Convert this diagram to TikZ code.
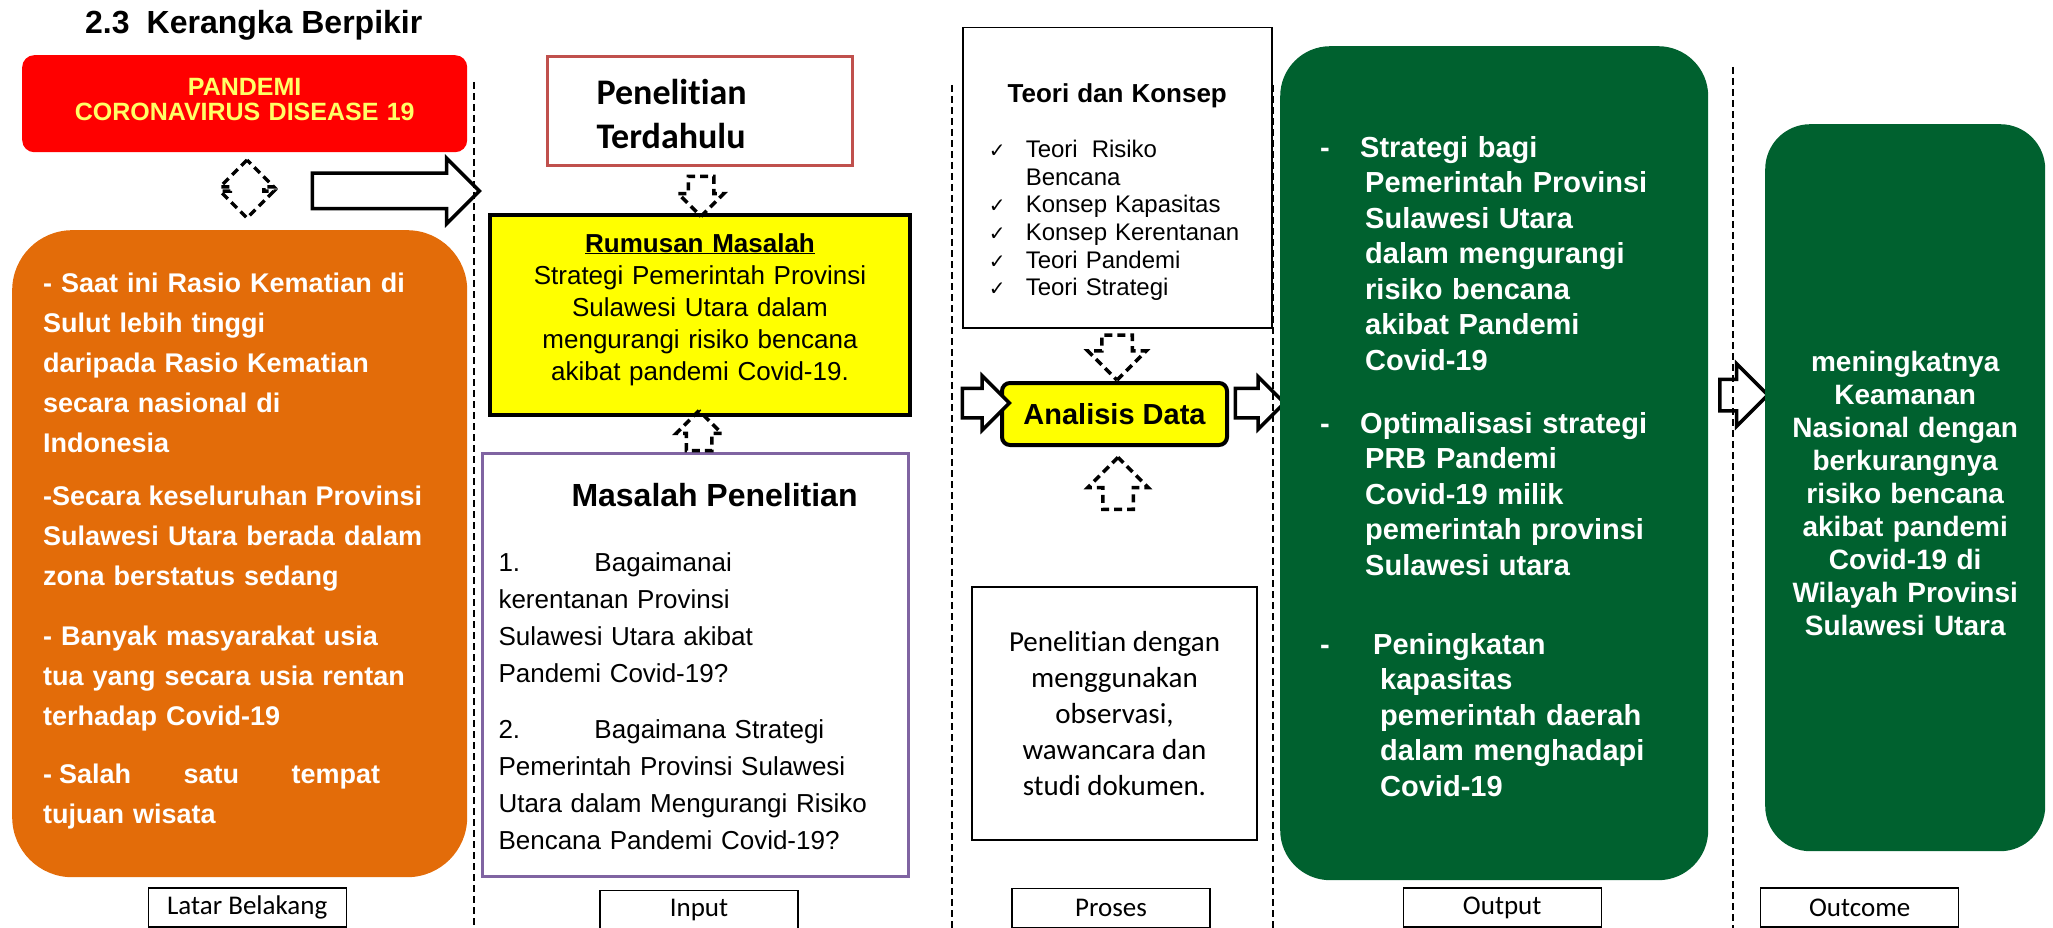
\documentclass[tikz,border=0pt]{standalone}
\usepackage{fontspec}
\setmainfont{Liberation Sans}
\newfontfamily\calibri[Ligatures=NoCommon]{Carlito}
\newfontfamily\cekfont{DejaVu Sans}
\usetikzlibrary{positioning,shapes.arrows}
\definecolor{Merah}{HTML}{FF0000}
\definecolor{Jingga}{HTML}{E36C09}
\definecolor{Kuning}{HTML}{FFFF00}
\definecolor{Hijau}{HTML}{00612F}
\definecolor{Bata}{HTML}{C0504D}
\definecolor{Ungu}{HTML}{8064A2}
\definecolor{KuningMuda}{HTML}{FFFF66}
\newcommand{\ukuran}[2]{\fontsize{#1pt}{#2pt}\selectfont}
\newcommand{\cek}{\makebox[37pt][l]{\cekfont\ukuran{20}{27.6}✓}}

\begin{document}
\begin{tikzpicture}[x=1pt,y=-1pt,
 panel/.style={anchor=north west,inner ysep=0pt},
 blok/.style={draw,line width=3.5pt,fill=white,inner sep=0pt,text depth=0pt},
 panah/.style={blok,single arrow},
 putus/.style={dash pattern=on 8pt off 5pt},
 sekat/.style={line width=1.5pt,dash pattern=on 7pt off 4pt},
 tanda/.style={draw,line width=1.2pt,minimum width=198pt,minimum height=39pt,
   inner sep=0pt,font=\calibri\ukuran{27}{30}}]
\useasboundingbox (0,0) rectangle (2053,928);
% judul
\node[anchor=base west,inner sep=0pt,font=\ukuran{32}{36}\bfseries] (judul) at (85,34)
  {2.3\hspace{17pt}Kerangka Berpikir};
% kolom latar belakang
\node[panel,fill=Merah,rounded corners=12pt,inner xsep=0pt,text width=445pt,
  text height=40pt,text depth=57pt,align=center,text=KuningMuda,
  font=\ukuran{25}{25}\bfseries] (pandemi) at (22,55) {PANDEMI\\CORONAVIRUS DISEASE 19};
\node[panel,fill=Jingga,rounded corners=60pt,inner xsep=31pt,text width=393pt,
  text height=62pt,text depth=585pt,align=left,text=white,
  font=\ukuran{27}{40}\bfseries] (latar) at (12,230) {- Saat ini Rasio Kematian di\\
  Sulut lebih tinggi\\
  daripada Rasio Kematian\\
  secara nasional di\\
  Indonesia\\[13pt]
  \makebox[379pt][l]{-Secara\hfill keseluruhan\hfill Provinsi}\\
  \makebox[379pt][l]{Sulawesi\hfill Utara\hfill berada\hfill dalam}\\
  zona berstatus sedang\\[20pt]
  - Banyak masyarakat usia\\
  tua yang secara usia rentan\\
  terhadap Covid-19\\[18pt]
  \makebox[337pt][l]{-\kern7pt Salah\hfill satu\hfill tempat}\\
  tujuan wisata};
\node[blok,putus,fill=none,double arrow,double arrow head extend=10pt,rotate=90,
  minimum height=58pt,text height=30pt] (duaarah) at (247,189) {};
\node[panah,single arrow head extend=15pt,minimum height=167pt,text height=32pt] (keInput) at (387,191) {};
% kolom input
\node[panel,draw=Bata,line width=3pt,inner xsep=49pt,text width=207pt,text height=48pt,
  text depth=61pt,align=left,font=\calibri\ukuran{36}{44}\bfseries] (terdahulu) at (546,55)
  {Penelitian\\Terdahulu};
\node[panel,draw,fill=Kuning,line width=4pt,inner xsep=0pt,text width=420pt,text height=37pt,
  text depth=163pt,align=center,font=\ukuran{26}{32}] (rumusan) at (488,213)
  {{\bfseries\underline{Rumusan Masalah}}\\
  Strategi Pemerintah Provinsi\\
  Sulawesi Utara dalam\\
  mengurangi risiko bencana\\
  akibat pandemi Covid-19.};
\node[panel,draw=Ungu,line width=3pt,inner xsep=16pt,text width=394pt,text height=53pt,
  text depth=370pt,align=left,font=\ukuran{26}{37}] (masalah) at (481,452)
  {\hspace*{73pt}{\ukuran{32}{37}\bfseries Masalah Penelitian}\\[28pt]
  \makebox[96pt][l]{1.}Bagaimanai\\
  kerentanan Provinsi\\
  Sulawesi Utara akibat\\
  Pandemi Covid-19?\\[19pt]
  \makebox[96pt][l]{2.}Bagaimana Strategi\\
  Pemerintah Provinsi Sulawesi\\
  Utara dalam Mengurangi Risiko\\
  Bencana Pandemi Covid-19?};
\node[panah,putus,fill=none,rotate=270,single arrow head extend=10pt,minimum height=40pt,text height=22pt]
  (turun1) at (701,190) {};
\node[panah,putus,fill=none,rotate=90,single arrow head extend=10pt,minimum height=40pt,text height=22pt]
  (naik1) at (699,437) {};
% kolom proses
\node[panel,draw,line width=1.5pt,inner xsep=26pt,text width=257pt,text height=75pt,
  text depth=225pt,align=left,font=\ukuran{24}{27.6}] (teori) at (962,27)
  {\makebox[257pt]{\ukuran{26}{27.6}\bfseries Teori dan Konsep}\\[27.4pt]
  \cek Teori\hspace{14pt}Risiko\\
  \hspace*{37pt}Bencana\\
  \cek Konsep Kapasitas\\
  \cek Konsep Kerentanan\\
  \cek Teori Pandemi\\
  \cek Teori Strategi};
\node[draw,fill=Kuning,line width=4pt,rounded corners=8pt,minimum width=225pt,
  minimum height=62pt,font=\ukuran{29}{32}\bfseries] (analisis) at (1114.5,414) {Analisis Data};
\node[draw,line width=1.5pt,minimum width=285pt,minimum height=253pt,align=center,
  font=\calibri\ukuran{29}{36}] (metode) at (1114.5,713.5)
  {Penelitian dengan\\menggunakan\\observasi,\\wawancara dan\\studi dokumen.};
\node[panah,putus,fill=none,rotate=270,single arrow head extend=14pt,minimum height=45pt,text height=27pt]
  (turun2) at (1117,350) {};
\node[panah,putus,fill=none,rotate=90,single arrow head extend=15pt,minimum height=52pt,text height=27pt]
  (naik2) at (1118,491) {};
\node[panah,single arrow head extend=12.5pt,minimum height=47pt,text height=26pt] (masukAnalisis) at (978.5,403) {};
\node[panah,single arrow head extend=11.5pt,minimum height=49pt,text height=26pt] (keluarAnalisis) at (1252.5,403) {};
% kolom output dan outcome
\node[panel,fill=Hijau,rounded corners=50pt,inner xsep=40pt,text width=348pt,text height=111pt,
  text depth=723pt,align=left,text=white,font=\ukuran{29}{35.5}\bfseries] (output) at (1280,46)
  {\makebox[40pt][l]{-}Strategi bagi\\
  \hspace*{45pt}Pemerintah Provinsi\\
  \hspace*{45pt}Sulawesi Utara\\
  \hspace*{45pt}dalam mengurangi\\
  \hspace*{45pt}risiko bencana\\
  \hspace*{45pt}akibat Pandemi\\
  \hspace*{45pt}Covid-19\\[27.5pt]
  \makebox[40pt][l]{-}Optimalisasi strategi\\
  \hspace*{45pt}PRB Pandemi\\
  \hspace*{45pt}Covid-19 milik\\
  \hspace*{45pt}pemerintah provinsi\\
  \hspace*{45pt}Sulawesi utara\\[43.5pt]
  \makebox[53pt][l]{-}Peningkatan\\
  \hspace*{60pt}kapasitas\\
  \hspace*{60pt}pemerintah daerah\\
  \hspace*{60pt}dalam menghadapi\\
  \hspace*{60pt}Covid-19};
\node[panah,single arrow head extend=15.5pt,minimum height=48pt,text height=28pt] (keOutcome) at (1736,395) {};
\node[panel,fill=Hijau,rounded corners=45pt,inner xsep=0pt,text width=280pt,text height=247pt,
  text depth=480pt,align=center,text=white,font=\ukuran{28}{33}\bfseries] (outcome) at (1765,124)
  {meningkatnya\\Keamanan\\Nasional dengan\\berkurangnya\\risiko bencana\\akibat pandemi\\
  Covid-19 di\\Wilayah Provinsi\\Sulawesi Utara};
% sekat antar kolom
\draw[sekat] (474,82) -- (474,928);
\draw[sekat] (952,85) -- (952,928);
\draw[sekat] (1273,85) -- (1273,928);
\draw[sekat] (1733,67) -- (1733,928);
% label kolom
\node[tanda,below=10pt of latar,xshift=7.5pt] (tLatar) {Latar Belakang};
\node[tanda,below=12pt of masalah,xshift=3.5pt] (tInput) {Input};
\node[tanda,below=47pt of metode,xshift=-3.5pt] (tProses) {Proses};
\node[tanda,below=7pt of output,xshift=8pt] (tOutput) {Output};
\node[tanda,below=36pt of outcome,xshift=-45.5pt] (tOutcome) {Outcome};
\end{tikzpicture}
\end{document}
